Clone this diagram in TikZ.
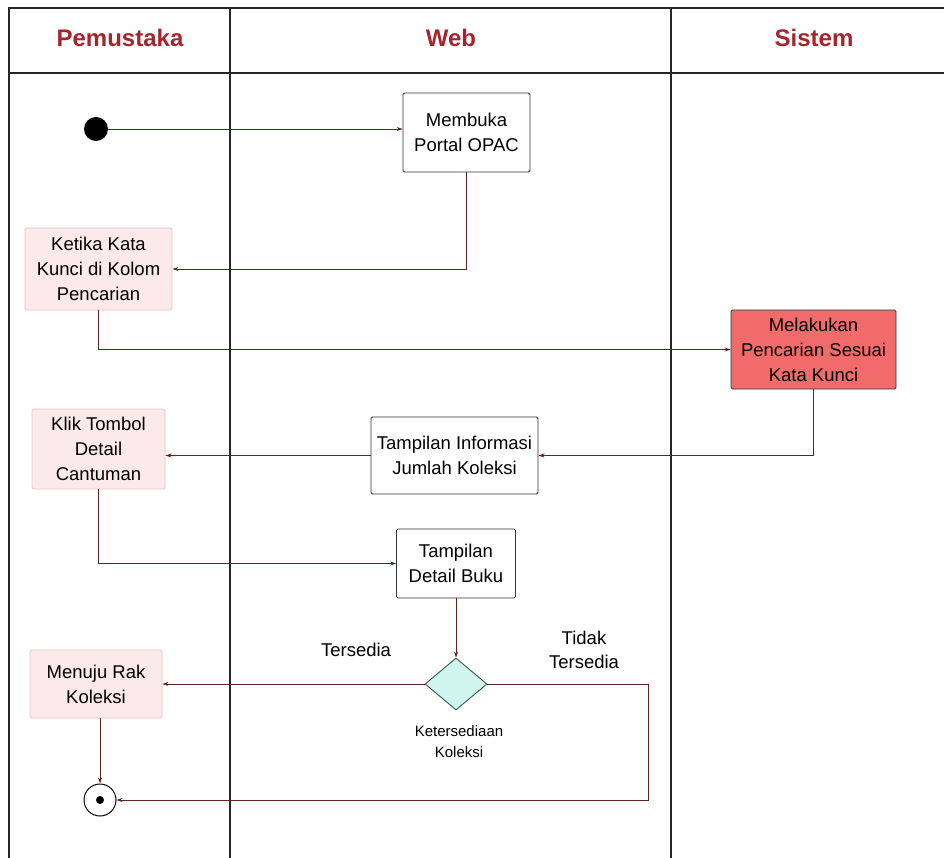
\documentclass[tikz,border=0pt]{standalone}
\usepackage{fontspec}
\setmainfont{Liberation Sans}
\usetikzlibrary{arrows.meta,shapes.geometric}

\definecolor{lanehead}{HTML}{A3262C}
\definecolor{flow}{HTML}{5A2620}
\definecolor{userfill}{HTML}{FCE9EB}
\definecolor{userline}{HTML}{E6C3C7}
\definecolor{sysfill}{HTML}{F26B6B}
\definecolor{decfill}{HTML}{CFF5EE}
\definecolor{decline}{HTML}{2F5A50}

\tikzset{
  lane/.style={line width=1.6pt, draw=black!85},
  head/.style={font=\fontsize{24}{28}\selectfont\bfseries, text=lanehead},
  act/.style={draw=black!80, line width=0.9pt, rounded corners=1.5pt, align=center,
              font=\fontsize{18.5}{25}\selectfont, inner sep=0pt},
  useract/.style={act, draw=userline, fill=userfill},
  sysact/.style={act, draw=black!80, fill=sysfill},
  flowline/.style={draw=flow, line width=0.9pt, -{Stealth[length=6pt,width=4pt]}},
  note/.style={font=\fontsize{18.5}{24}\selectfont, align=center},
}

\begin{document}
\begin{tikzpicture}[x=1pt,y=-1pt]
  \useasboundingbox (0,0) rectangle (944,858);

  % swimlane frame
  \draw[lane] (9,858) -- (9,8) -- (944,8);
  \draw[lane] (9,73) -- (944,73);
  \draw[lane] (230,8) -- (230,858);
  \draw[lane] (671,8) -- (671,858);

  \node[head] (hP) at (120,38) {Pemustaka};
  \node[head] (hW) at (451,38) {Web};
  \node[head] (hS) at (814,38) {Sistem};

  % start and end
  \node[circle, fill=black, minimum size=24pt, inner sep=0pt] (start) at (96,129) {};
  \node[circle, draw=black, line width=1pt, fill=white, minimum size=32pt, inner sep=0pt] (end) at (100,800) {};
  \node[circle, fill=black, minimum size=8pt, inner sep=0pt] (endDot) at (100,800) {};

  % activities
  \node[act, minimum width=127pt, minimum height=79pt] (open) at (466.5,132.5) {Membuka\\Portal OPAC};
  \node[useract, minimum width=147pt, minimum height=82pt] (type) at (98.5,269) {Ketika Kata\\Kunci di Kolom\\Pencarian};
  \node[sysact, minimum width=165pt, minimum height=79pt] (search) at (813.5,349.5) {Melakukan\\Pencarian Sesuai\\Kata Kunci};
  \node[act, minimum width=167pt, minimum height=77pt] (info) at (454.5,455.5) {Tampilan Informasi\\Jumlah Koleksi};
  \node[useract, minimum width=133pt, minimum height=80pt] (click) at (98.5,449) {Klik Tombol\\Detail\\Cantuman};
  \node[act, minimum width=119pt, minimum height=69pt] (detail) at (456,563.5) {Tampilan\\Detail Buku};
  \node[diamond, draw=decline, line width=0.9pt, fill=decfill, minimum width=62pt, minimum height=52pt, inner sep=0pt] (avail) at (456,684) {};
  \node[useract, minimum width=132pt, minimum height=68pt] (shelf) at (96,684) {Menuju Rak\\Koleksi};

  % labels
  \node[note] (yes) at (356,650) {Tersedia};
  \node[note] (no) at (584,650) {Tidak\\Tersedia};
  \node[font=\fontsize{15}{21}\selectfont, align=center] (availLbl) at (459,742) {Ketersediaan\\Koleksi};

  % flows
  \draw[flowline] (start.east) -- (start.east -| open.west);
  \draw[flowline] (open.south) |- (type.east);
  \draw[flowline] (type.south) |- (search.west);
  \draw[flowline] (search.south) |- (info.east);
  \draw[flowline] (info.west) -- (info.west -| click.east);
  \draw[flowline] (click.south) |- (detail.west);
  \draw[flowline] (detail.south) -- (avail.north);
  \draw[flowline] (avail.west) -- (shelf.east);
  \coordinate (loop) at (648,684);
  \draw[flowline] (avail.east) -- (loop) |- (end.east);
  \draw[flowline] (shelf.south -| end.north) -- (end.north);
\end{tikzpicture}
\end{document}
